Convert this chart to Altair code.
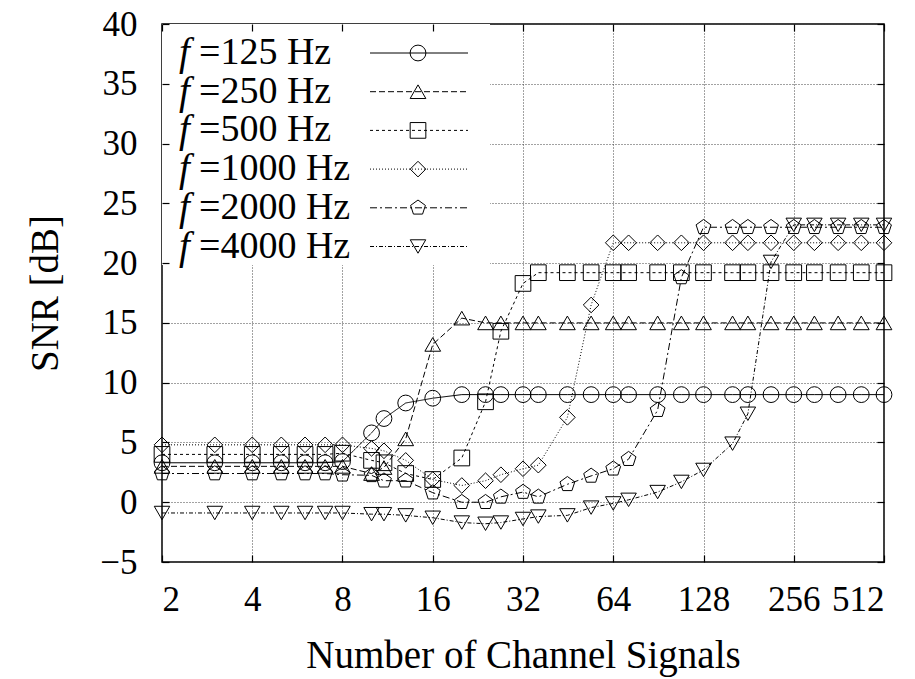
import altair as alt
import pandas as pd

# ---------------- data ----------------
channels = [2, 3, 4, 5, 6, 7, 8, 10, 11, 13, 16, 20, 24, 27, 32, 36, 45, 54, 64, 72,
            90, 108, 128, 160, 180, 215, 256, 300, 360, 430, 512]
series = ["125 Hz", "250 Hz", "500 Hz", "1000 Hz", "2000 Hz", "4000 Hz"]

snr_125 = [3.3, 3.3, 3.3, 3.3, 3.3, 3.3, 3.4, 5.8, 7.0, 8.3, 8.7, 9.0, 9.0, 9.0, 9.0, 9.0,
           9.0, 9.0, 9.0, 9.0, 9.0, 9.0, 9.0, 9.0, 9.0, 9.0, 9.0, 9.0, 9.0, 9.0, 9.0]
snr_250 = [3.0, 3.0, 3.0, 3.0, 3.0, 3.0, 3.0, 2.4, 2.9, 5.3, 13.2, 15.4, 15.0, 15.0, 15.0, 15.0,
           15.0, 15.0, 15.0, 15.0, 15.0, 15.0, 15.0, 15.0, 15.0, 15.0, 15.0, 15.0, 15.0, 15.0, 15.0]
snr_500 = [4.0, 4.0, 4.0, 4.0, 4.0, 4.0, 4.1, 3.5, 3.3, 2.4, 1.9, 3.7, 8.4, 14.3, 18.3, 19.2,
           19.2, 19.2, 19.2, 19.2, 19.2, 19.2, 19.2, 19.2, 19.2, 19.2, 19.2, 19.2, 19.2, 19.2, 19.2]
snr_1000 = [4.8, 4.8, 4.8, 4.8, 4.8, 4.8, 4.8, 4.5, 4.3, 3.5, 1.9, 1.4, 1.8, 2.3, 2.8, 3.1,
            7.1, 16.5, 21.7, 21.7, 21.7, 21.7, 21.7, 21.7, 21.7, 21.7, 21.7, 21.7, 21.7, 21.7, 21.7]
snr_2000 = [2.4, 2.4, 2.4, 2.4, 2.4, 2.4, 2.3, 2.25, 1.8, 1.8, 0.8, 0.0, 0.0, 0.45, 0.85, 0.45,
            1.5, 2.2, 2.8, 3.6, 7.7, 18.8, 23.0, 23.0, 23.0, 23.0, 23.0, 23.0, 23.0, 23.0, 23.0]
snr_4000 = [-0.9, -0.9, -0.9, -0.9, -0.9, -0.9, -0.9, -1.0, -1.0, -1.1, -1.3, -1.7, -1.8, -1.7, -1.4, -1.2,
            -1.1, -0.45, -0.1, 0.2, 0.85, 1.7, 2.7, 4.9, 7.4, 20.1, 23.2, 23.2, 23.2, 23.2, 23.2]

x_ticks = [2, 4, 8, 16, 32, 64, 128, 256, 512]
y_ticks = [-5, 0, 5, 10, 15, 20, 25, 30, 35, 40]

rows = []
for s, vals in zip(series, [snr_125, snr_250, snr_500, snr_1000, snr_2000, snr_4000]):
    for c, v in zip(channels, vals):
        rows.append({"series": s, "channels": c, "snr": v})
df = pd.DataFrame(rows)
legend_df = pd.DataFrame({"series": series, "idx": list(range(len(series))),
                          "label": ["=" + s for s in series]})

# ---------------- styles ----------------
FONT = "Liberation Serif"
pentagon = "M0,-1L0.951,-0.309L0.588,0.809L-0.588,0.809L-0.951,-0.309Z"
shapes = ["circle", "triangle-up", "square", "diamond", pentagon, "triangle-down"]
sizes = [250, 240, 220, 200, 200, 240]
dashes = [[1, 0], [6, 3], [3, 3], [1, 2], [7, 3, 2, 3], [4, 2, 1, 2]]

xscale = alt.Scale(type="log", base=2, domain=[2, 512], nice=False)
yscale = alt.Scale(domain=[-5, 40], nice=False, zero=False)

shape_enc = alt.Shape("series:N", scale=alt.Scale(domain=series, range=shapes), legend=None)
size_enc = alt.Size("series:N", scale=alt.Scale(domain=series, range=sizes), legend=None)
dash_enc = alt.StrokeDash("series:N", scale=alt.Scale(domain=series, range=dashes), legend=None)

base = alt.Chart(df)

lines = base.mark_line(color="black", strokeWidth=1).encode(
    x=alt.X("channels:Q", scale=xscale,
            axis=alt.Axis(values=x_ticks, format="d", grid=True, gridDash=[1, 2],
                          gridColor="#444", gridWidth=1, tickSize=0, domain=False,
                          labelPadding=20, labelOverlap=False,
                          title="Number of Channel Signals", titlePadding=19)),
    y=alt.Y("snr:Q", scale=yscale,
            axis=alt.Axis(values=y_ticks, grid=True, gridDash=[1, 2], gridColor="#444",
                          gridWidth=1, tickSize=0, domain=False, labelPadding=25,
                          labelOverlap=False, title="SNR [dB]", titlePadding=34)),
    strokeDash=dash_enc,
    detail="series:N",
)

points = base.mark_point(filled=False, color="black", strokeWidth=1, opacity=1).encode(
    x=alt.X("channels:Q", scale=xscale, axis=None),
    y=alt.Y("snr:Q", scale=yscale, axis=None),
    shape=shape_enc,
    size=size_enc,
)


def tick_axis(orient, vals):
    return alt.Axis(orient=orient, offset=-7, values=vals, tickSize=7, tickColor="black",
                    tickWidth=1.2, labels=False, domain=False, grid=False, title=None,
                    zindex=1)


ticks_a = base.mark_point(opacity=0).encode(
    x=alt.X("channels:Q", scale=xscale, axis=tick_axis("bottom", x_ticks)),
    y=alt.Y("snr:Q", scale=yscale, axis=tick_axis("left", y_ticks)),
)
ticks_b = base.mark_point(opacity=0).encode(
    x=alt.X("channels:Q", scale=xscale, axis=tick_axis("top", x_ticks)),
    y=alt.Y("snr:Q", scale=yscale, axis=tick_axis("right", y_ticks)),
)

# ---------------- legend ----------------
leg = alt.Chart(legend_df).transform_calculate(ly="29 + datum.idx * 38.7")
leg_y = alt.Y("ly:Q", scale=None, axis=None)

leg_bg = alt.Chart(legend_df.head(1)).mark_rect(fill="white", stroke=None).encode(
    x=alt.value(0), x2=alt.value(328), y=alt.value(0), y2=alt.value(241)
)
leg_rule = leg.mark_rule(color="black", strokeWidth=1).encode(
    x=alt.value(208), x2=alt.value(306), y=leg_y, strokeDash=dash_enc
)
leg_pt = leg.mark_point(filled=False, color="black", strokeWidth=1, opacity=1).encode(
    x=alt.value(256), y=leg_y, shape=shape_enc, size=size_enc
)
leg_f = leg.mark_text(text="f", font=FONT, fontSize=39, fontStyle="italic",
                      align="left", baseline="middle", color="black").encode(
    x=alt.value(17), y=leg_y
)
leg_txt = leg.mark_text(font=FONT, fontSize=38, align="left", baseline="middle",
                        color="black").encode(
    x=alt.value(37), y=leg_y, text="label:N"
)

chart = alt.layer(
    leg_bg, lines, points, ticks_a, ticks_b, leg_rule, leg_pt, leg_f, leg_txt
).resolve_axis(
    x="independent", y="independent"
).properties(
    width=722, height=538,
    autosize=alt.AutoSizeParams(type="none"),
    padding={"left": 154, "top": 16, "right": 23, "bottom": 117},
).configure_view(
    stroke="black", strokeWidth=1.5
).configure_axis(
    labelFont=FONT, titleFont=FONT, labelFontSize=35, titleFontSize=39,
    titleFontWeight="normal", labelColor="black", titleColor="black",
)

chart.save("out.html", embed_options={"renderer": "svg", "actions": False})
